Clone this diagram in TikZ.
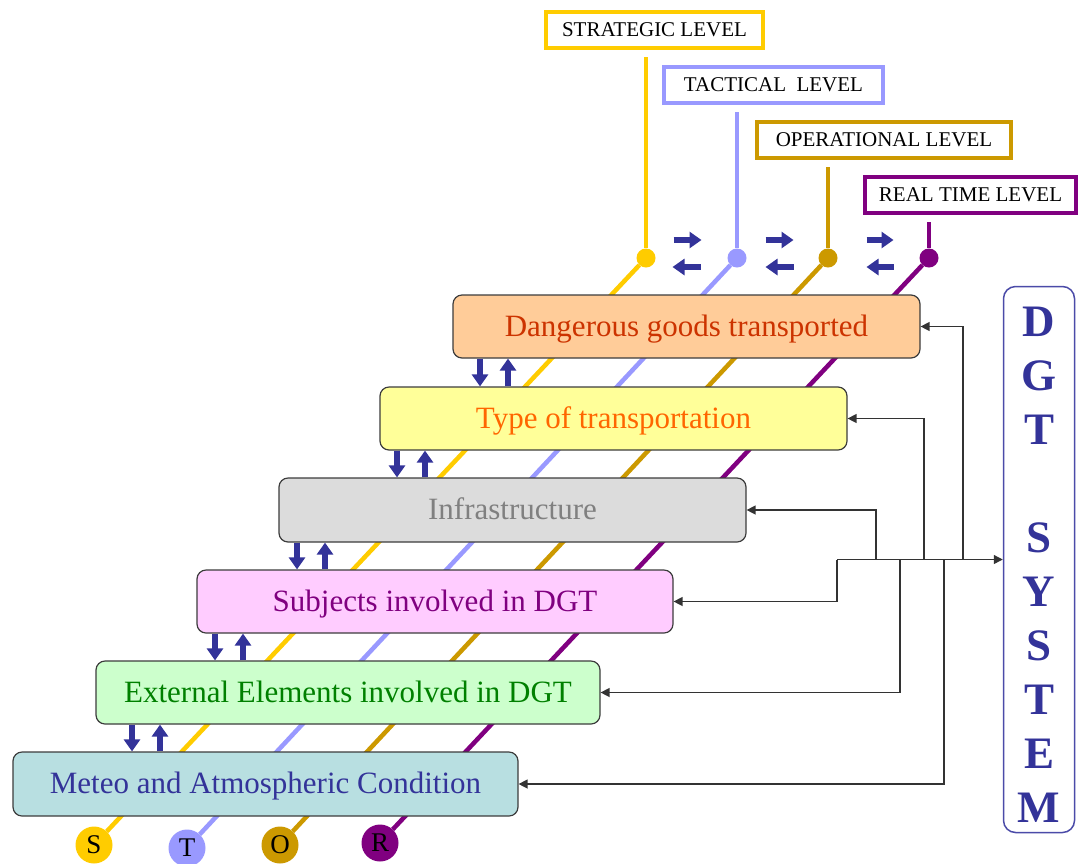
\documentclass[tikz,border=0pt]{standalone}
\usepackage{fontspec}
\setmainfont{Liberation Serif}
\usetikzlibrary{arrows.meta,calc}
\pgfdeclarelayer{back}
\pgfsetlayers{back,main}

\definecolor{navy}{HTML}{333399}
\definecolor{sysedge}{HTML}{4B4BA8}
\definecolor{boxedge}{HTML}{3C3C3C}
\definecolor{wire}{HTML}{333333}
\definecolor{lvlS}{HTML}{FFCC00}
\definecolor{lvlT}{HTML}{9999FF}
\definecolor{lvlO}{HTML}{CC9900}
\definecolor{lvlR}{HTML}{800080}
\definecolor{fillA}{HTML}{FFCC99}
\definecolor{fillB}{HTML}{FFFF99}
\definecolor{fillC}{HTML}{DCDCDC}
\definecolor{fillD}{HTML}{FFCCFF}
\definecolor{fillE}{HTML}{CCFFCC}
\definecolor{fillF}{HTML}{B8DFE1}
\definecolor{textA}{HTML}{CC3300}
\definecolor{textB}{HTML}{FF6600}
\definecolor{textC}{HTML}{808080}
\definecolor{textD}{HTML}{800080}
\definecolor{textE}{HTML}{008000}

\begin{document}
\begin{tikzpicture}[x=1pt,y=-1pt,
  layer/.style={draw=boxedge, line width=1.2pt, rounded corners=9pt,
    minimum height=63pt, inner sep=0pt, text depth=2pt,
    font=\fontsize{31}{33}\selectfont},
  levelbox/.style={draw, line width=4pt, fill=white, minimum height=36pt,
    inner sep=0pt, font=\fontsize{21}{23}\selectfont},
  thread/.style={line width=4.5pt},
  knot/.style={circle, inner sep=0pt, minimum size=19pt},
  tag/.style={circle, inner sep=0pt, minimum size=37pt,
    font=\fontsize{27}{27}\selectfont},
  flow/.style={navy, line width=5.5pt, -{Triangle[length=12pt,width=16pt]}},
  feed/.style={draw=wire, line width=1.3pt, -{Triangle[length=9pt,width=9pt]}},
]
\useasboundingbox (0,0) rectangle (1083,863);

% level labels
\node[levelbox, draw=lvlS, minimum width=217pt] (lS) at (654.5,30) {STRATEGIC LEVEL};
\node[levelbox, draw=lvlT, minimum width=219pt] (lT) at (773.5,85) {TACTICAL\ \ LEVEL};
\node[levelbox, draw=lvlO, minimum width=254pt] (lO) at (884,140) {OPERATIONAL LEVEL};
\node[levelbox, draw=lvlR, minimum width=211pt] (lR) at (970.5,195) {REAL TIME LEVEL};

% joints under the labels
\node[knot, fill=lvlS] (dS) at (646,258) {};
\node[knot, fill=lvlT] (dT) at (737,258) {};
\node[knot, fill=lvlO] (dO) at (828,258) {};
\node[knot, fill=lvlR] (dR) at (929,258) {};

% end tags
\node[tag, fill=lvlS] (cS) at (94,845) {S};
\node[tag, fill=lvlT] (cT) at (187,848) {T};
\node[tag, fill=lvlO] (cO) at (280,845) {O};
\node[tag, fill=lvlR] (cR) at (380,843) {R};

% stacked layers
\node[layer, fill=fillA, text=textA, minimum width=467pt] (dgt) at (686.5,326.5) {Dangerous goods transported};
\node[layer, fill=fillB, text=textB, minimum width=467pt] (type) at (613.5,418.5) {Type of transportation};
\node[layer, fill=fillC, text=textC, minimum width=467pt, minimum height=64pt] (infra) at (512.5,510) {Infrastructure};
\node[layer, fill=fillD, text=textD, minimum width=476pt] (subj) at (435,601.5) {Subjects involved in DGT};
\node[layer, fill=fillE, text=textE, minimum width=504pt] (ext) at (348,692.5) {External Elements involved in DGT};
\node[layer, fill=fillF, text=navy, minimum width=505pt, minimum height=64pt] (met) at (265.5,784) {Meteo and Atmospheric Condition};

% system column
\node[draw=sysedge, line width=1.5pt, rounded corners=12pt,
      minimum width=71pt, minimum height=546pt, inner sep=0pt] (sys) at (1039,559.5) {};
\node[align=center, text=navy, inner sep=0pt,
      font=\fontsize{45}{54}\selectfont\bfseries] (systext) at ($(sys.center)+(0,5)$)
      {D\\G\\T\\[54pt]S\\Y\\S\\T\\E\\M};

% level threads behind the layers
\begin{pgfonlayer}{back}
  \foreach \k/\c in {S/lvlS,T/lvlT,O/lvlO,R/lvlR}{
    \draw[thread, \c] (d\k) -- ($(d\k |- l\k.south)+(0,7)$);
    \draw[thread, \c] (d\k) -- (c\k);
  }
\end{pgfonlayer}

% exchange between levels
\draw[flow] ($(dS)!0.5!(dT)+(-18,-18)$) -- +(28,0);
\draw[flow] ($(dS)!0.5!(dT)+(9,9)$) -- +(-28,0);
\draw[flow] ($(dT)!0.5!(dO)+(-17,-18)$) -- +(28,0);
\draw[flow] ($(dT)!0.5!(dO)+(11,9)$) -- +(-28,0);
\draw[flow] ($(dO)!0.5!(dR)+(-12,-18)$) -- +(27,0);
\draw[flow] ($(dO)!0.5!(dR)+(15,9)$) -- +(-27,0);

% exchange between layers
\draw[flow] (480,0 |- dgt.south) -- (480,0 |- type.north);
\draw[flow] (508,0 |- type.north) -- (508,0 |- dgt.south);
\draw[flow] (397,0 |- type.south) -- (397,0 |- infra.north);
\draw[flow] (425,0 |- infra.north) -- (425,0 |- type.south);
\draw[flow] (297,0 |- infra.south) -- (297,0 |- subj.north);
\draw[flow] (325,0 |- subj.north) -- (325,0 |- infra.south);
\draw[flow] (215,0 |- subj.south) -- (215,0 |- ext.north);
\draw[flow] (243,0 |- ext.north) -- (243,0 |- subj.south);
\draw[flow] (132,0 |- ext.south) -- (132,0 |- met.north);
\draw[flow] (160,0 |- met.north) -- (160,0 |- ext.south);

% feedback bus to the system
\coordinate (jS) at (837,0 |- sys.west);
\draw[feed] (jS) -- (sys.west);
\draw[feed] (963,0 |- sys.west) |- (dgt.east);
\draw[feed] (924,0 |- sys.west) |- (type.east);
\draw[feed] (876,0 |- sys.west) |- (infra.east);
\draw[feed] (jS) |- (subj.east);
\draw[feed] (900,0 |- sys.west) |- (ext.east);
\draw[feed] (944,0 |- sys.west) |- (met.east);
\end{tikzpicture}
\end{document}
